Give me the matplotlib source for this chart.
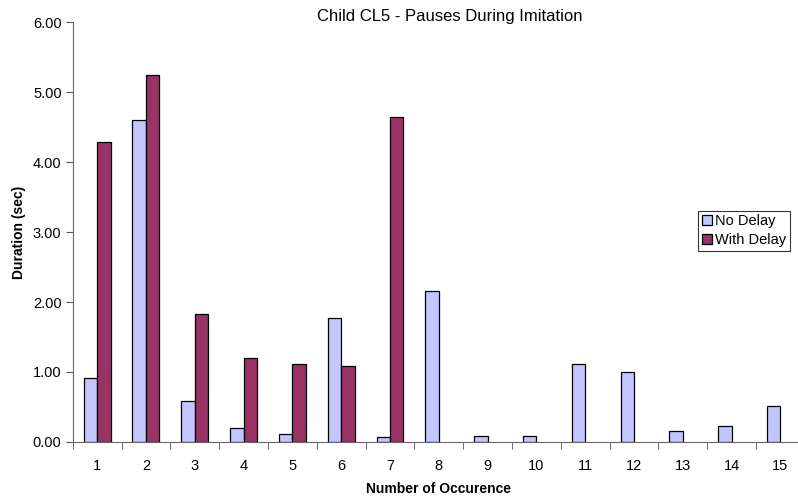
"""
    Child CL5 - pause durations during imitation
"""

import numpy as np
import matplotlib.pyplot as plt

plt.rcParams['font.family'] = ['Liberation Sans', 'DejaVu Sans']

# data
occurrences = [str(i) for i in range(1, 16)]
no_delay = [0.92, 4.60, 0.59, 0.20, 0.12, 1.77, 0.07, 2.16, 0.08, 0.08,
            1.11, 1.00, 0.15, 0.23, 0.52]
with_delay = [4.29, 5.25, 1.83, 1.20, 1.11, 1.08, 4.64, 0, 0, 0,
              0, 0, 0, 0, 0]
y_ticks = [0, 1, 2, 3, 4, 5, 6]

fig = plt.figure(figsize=(7.98, 5.01), dpi=100)
ax = fig.add_axes([0.0911, 0.1178, 0.9174, 0.8382])

x = np.arange(len(occurrences))
w = 0.275
ax.bar(x - w/2, no_delay, w, color='#C4C4FF', edgecolor='black', linewidth=0.9,
       label='No Delay')
# skip zero bars so there are no flat outlines on the axis
wd = np.array(with_delay)
m = wd > 0
ax.bar(x[m] + w/2, wd[m], w, color='#993366', edgecolor='black', linewidth=0.9,
       label='With Delay')

ax.set_xlim(-0.5, len(occurrences) - 0.5)
ax.set_ylim(0, 6)
ax.set_yticks(y_ticks)
ax.set_yticklabels(['%.2f' % v for v in y_ticks], fontsize=10.5)
ax.set_xticks(x)
ax.set_xticklabels(occurrences, fontsize=10.5)
ax.tick_params(axis='x', length=0, pad=12)
ax.set_xticks(np.arange(len(occurrences) + 1) - 0.5, minor=True)
ax.tick_params(axis='x', which='minor', length=5, color='#555555')
ax.tick_params(axis='y', length=5, color='#555555', pad=3)

for s in ['top', 'right']:
    ax.spines[s].set_visible(False)
ax.spines['left'].set_color('#666666')
ax.spines['bottom'].set_color('#666666')

ax.set_xlabel('Number of Occurence', fontsize=10, fontweight='bold', labelpad=7)
ax.set_ylabel('Duration (sec)', fontsize=10, fontweight='bold', labelpad=5)
fig.text(0.564, 0.968, 'Child CL5 - Pauses During Imitation', ha='center',
         va='center', fontsize=12)

leg = fig.legend(loc='lower right', bbox_to_anchor=(790/798, 1 - 251/501),
                 fontsize=10.5, frameon=True, fancybox=False, handlelength=0.7,
                 handleheight=0.7, handletextpad=0.2, borderpad=0.25,
                 labelspacing=0.35, borderaxespad=0)
leg.get_frame().set_edgecolor('black')
leg.get_frame().set_linewidth(0.8)

plt.savefig('out.png', dpi=100)
